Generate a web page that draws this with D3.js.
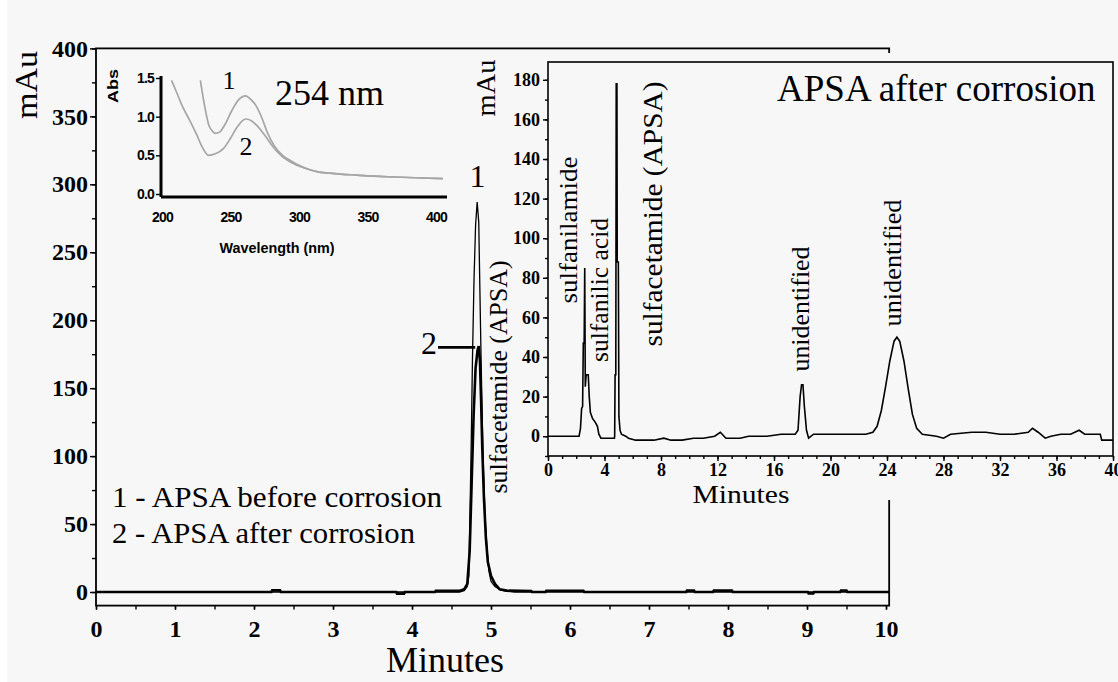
<!DOCTYPE html>
<html>
<head>
<meta charset="utf-8">
<script src="https://cdn.jsdelivr.net/npm/d3@7"></script>
<style>
  body { margin: 0; background: #fff; }
  svg { display: block; }
  text { fill: #000; }
</style>
</head>
<body>
<div id="chart"></div>
<script>
// main chromatogram, 254 nm (minutes / mAu)
const mainTime1 = [0, 4.6, 4.66, 4.7, 4.72, 4.735, 4.75, 4.765, 4.785, 4.805, 4.825, 4.845, 4.86, 4.875, 4.89, 4.905, 4.925, 4.95, 4.975, 5.0, 5.05, 5.12, 5.2, 5.3, 10.04];
const mainAbs1  = [0, 0, 1, 4, 12, 60, 110, 170, 230, 270, 287, 272, 220, 170, 125, 90, 55, 31, 15, 8, 4, 1.5, 0.5, 0, 0];
const mainTime2 = [0, 2.22, 2.23, 2.33, 2.34, 3.8, 3.81, 3.9, 3.91, 4.29, 4.3, 4.6, 4.66, 4.7, 4.73, 4.755, 4.78, 4.805, 4.83, 4.845, 4.86, 4.875, 4.89, 4.91, 4.935, 4.96, 5.0, 5.05, 5.11, 5.2, 5.51, 5.52, 5.69, 5.7, 6.17, 6.18, 7.47, 7.48, 7.57, 7.58, 7.81, 7.82, 8.05, 8.06, 9.01, 9.02, 9.08, 9.09, 9.42, 9.43, 9.5, 9.51, 10.04];
const mainAbs2  = [0, 0, 1.2, 1.2, 0, 0, -1.2, -1.2, 0, 0, 0.8, 0.8, 2, 6, 30, 80, 130, 165, 178, 181, 170, 140, 105, 70, 40, 22, 12, 6, 2, 1, 0.8, 0, 0, 0.9, 0.9, 0, 0, 1, 1, 0, 0, 1, 1, 0, 0, -1, -1, 0, 0, 1, 1, 0, 0];
const mainXTicks = [0, 1, 2, 3, 4, 5, 6, 7, 8, 9, 10];
const mainYTicks = [0, 50, 100, 150, 200, 250, 300, 350, 400];

// UV spectra inset (nm / Abs)
const specWl1  = [228, 231, 234, 237, 239, 242, 246, 251, 256, 261, 265, 269, 273, 277, 282, 288, 294, 300, 307, 313, 322, 332, 342, 355, 370, 385, 405];
const specAbs1 = [1.47, 1.15, 0.9, 0.81, 0.785, 0.8, 0.9, 1.08, 1.22, 1.27, 1.22, 1.13, 0.98, 0.79, 0.62, 0.5, 0.43, 0.37, 0.32, 0.29, 0.27, 0.255, 0.245, 0.23, 0.22, 0.21, 0.2];
const specWl2  = [207, 211, 215, 220, 225, 229, 234, 239, 245, 250, 255, 261, 265, 269, 275, 281, 288, 294, 298, 305, 313, 322, 332, 342, 355, 370, 385, 405];
const specAbs2 = [1.47, 1.3, 1.13, 0.96, 0.78, 0.62, 0.5, 0.52, 0.59, 0.72, 0.87, 0.97, 0.95, 0.89, 0.76, 0.61, 0.48, 0.41, 0.375, 0.33, 0.29, 0.27, 0.255, 0.245, 0.23, 0.22, 0.21, 0.2];
const specXTicks = [200, 250, 300, 350, 400];
const specYTicks = [0, 0.5, 1.0, 1.5];

// "APSA after corrosion" inset chromatogram (minutes / mAu)
const insetTime = [0, 2.2, 2.3, 2.38, 2.45, 2.5, 2.56, 2.6, 2.64, 2.7, 2.85, 2.92, 3.0, 3.15, 3.35, 3.5, 3.6, 3.75, 4.7, 4.72, 4.75, 4.8, 4.83, 4.88, 4.9, 4.98, 5.02, 5.1, 5.2, 5.5, 5.7, 6.2, 7.5, 8.2, 8.7, 9.5, 10.3, 11.0, 11.8, 12.2, 12.6, 13.6, 14.2, 15.5, 16.5, 17.5, 17.7, 17.85, 17.95, 18.05, 18.15, 18.3, 18.45, 18.8, 19.5, 20.5, 21.5, 22.5, 23.0, 23.3, 23.6, 23.9, 24.2, 24.5, 24.7, 24.9, 25.2, 25.5, 25.8, 26.1, 26.5, 27.5, 28.0, 28.5, 30, 31, 32, 33, 34.0, 34.3, 34.7, 35.2, 35.6, 36.3, 37.0, 37.6, 38.0, 38.5, 39.1, 39.2, 40];
const insetAbs  = [0, 0, 4, 14, 15, 47, 47, 85, 25, 31, 31, 20, 12, 9, 7, 5, 1, -1, -1, 0, 31, 31, 178, 178, 88, 88, 10, 3, 1, 0, -1, -2, -2, -1, -2, -2, -1, -1, 0, 2, -1, -1, 0, 0, 1, 1, 3, 20, 26, 26, 15, 3, -1, 1, 1, 1, 1, 1, 2, 5, 13, 25, 38, 48, 50, 48, 38, 24, 11, 4, 1, 0, -1, 1, 2, 2, 1, 1, 2, 4, 2, -1, 0, 1, 1, 3, 1, 1, 1, -2, -2];
const insetXTicks = [0, 4, 8, 12, 16, 20, 24, 28, 32, 36, 40];
const insetYTicks = [0, 20, 40, 60, 80, 100, 120, 140, 160, 180];

const serif = "'Liberation Serif', 'Times New Roman', serif";
const sans = "'Liberation Sans', Arial, sans-serif";

const W = 1118, H = 682;
const svg = d3.select("#chart").append("svg").attr("width", W).attr("height", H);
svg.append("rect").attr("x", 7).attr("y", 0).attr("width", W - 7).attr("height", H).attr("fill", "#f7f7f7");

function vtext(g, x, y, str, size, len) {
    const t = g.append("text")
        .attr("transform", `translate(${x},${y}) rotate(-90)`)
        .attr("text-anchor", "middle")
        .style("font-family", serif).style("font-size", size + "px")
        .text(str);
    if (len) t.attr("textLength", len).attr("lengthAdjust", "spacingAndGlyphs");
    return t;
}

function styleAxis(g, size, weight, family) {
    g.select(".domain").remove();
    g.selectAll(".tick line").attr("stroke", "#000").attr("stroke-width", 1.4);
    g.selectAll(".tick text").style("font-family", family).style("font-size", size + "px").style("font-weight", weight).attr("fill", "#000");
}

// ---------- main chromatogram ----------
const mx = d3.scaleLinear().domain([0, 10]).range([96, 886]);
const my = d3.scaleLinear().domain([-10, 400]).range([605.6, 48.4]);
const main = svg.append("g");

main.append("rect")
    .attr("x", mx(0)).attr("y", my(400))
    .attr("width", mx(10.04) - mx(0)).attr("height", my(-10) - my(400))
    .attr("fill", "none").attr("stroke", "#000").attr("stroke-width", 1.8);

main.append("g").attr("transform", `translate(${mx(0)},0)`)
    .call(d3.axisLeft(my).tickValues(d3.range(0, 401, 25)).tickSize(4).tickFormat(""))
    .call(g => styleAxis(g, 10, "normal", serif));
main.append("g").attr("transform", `translate(${mx(0)},0)`)
    .call(d3.axisLeft(my).tickValues(mainYTicks).tickSize(6).tickPadding(2).tickFormat(d3.format("d")))
    .call(g => styleAxis(g, 24, "bold", serif));

main.append("g").attr("transform", `translate(0,${my(-10)})`)
    .call(d3.axisBottom(mx).tickValues(d3.range(0, 10.01, 0.5)).tickSize(4).tickFormat(""))
    .call(g => styleAxis(g, 10, "normal", serif));
main.append("g").attr("transform", `translate(0,${my(-10)})`)
    .call(d3.axisBottom(mx).tickValues(mainXTicks).tickSize(4).tickPadding(10).tickFormat(d3.format("d")))
    .call(g => styleAxis(g, 24, "bold", serif));

const mainLine = d3.line().x(d => mx(d[0])).y(d => my(d[1]));
main.append("path").datum(mainTime2.map((t, i) => [t, mainAbs2[i]]))
    .attr("d", mainLine).attr("fill", "none").attr("stroke", "#000").attr("stroke-width", 2.6);
main.append("path").datum(mainTime1.map((t, i) => [t, mainAbs1[i]]))
    .attr("d", mainLine).attr("fill", "none").attr("stroke", "#000").attr("stroke-width", 1.3);

main.append("text").attr("x", 445).attr("y", 672).attr("text-anchor", "middle")
    .style("font-family", serif).style("font-size", "36px").text("Minutes");
vtext(main, 37, 85, "mAu", 32, 68);

main.append("text").attr("x", 112).attr("y", 507)
    .attr("textLength", 330).attr("lengthAdjust", "spacingAndGlyphs")
    .style("font-family", serif).style("font-size", "30px").text("1 - APSA before corrosion");
main.append("text").attr("x", 112).attr("y", 543)
    .attr("textLength", 303).attr("lengthAdjust", "spacingAndGlyphs")
    .style("font-family", serif).style("font-size", "30px").text("2 - APSA after corrosion");

main.append("text").attr("x", mx(4.83)).attr("y", 187).attr("text-anchor", "middle")
    .style("font-family", serif).style("font-size", "32px").text("1");
main.append("text").attr("x", 429).attr("y", 354).attr("text-anchor", "middle")
    .style("font-family", serif).style("font-size", "32px").text("2");
main.append("line").attr("x1", 438).attr("x2", mx(4.8)).attr("y1", my(180)).attr("y2", my(180))
    .attr("stroke", "#000").attr("stroke-width", 2.6);

// ---------- UV spectrum inset ----------
const sx = d3.scaleLinear().domain([200, 400]).range([162, 436]);
const sy = d3.scaleLinear().domain([0, 1.5]).range([194, 78]);
const spec = svg.append("g");

spec.append("line").attr("x1", 161).attr("x2", 447).attr("y1", 197).attr("y2", 197)
    .attr("stroke", "#000").attr("stroke-width", 3.2);
spec.append("line").attr("x1", 161).attr("x2", 161).attr("y1", 76).attr("y2", 197)
    .attr("stroke", "#000").attr("stroke-width", 3);

spec.append("g").attr("transform", "translate(160,0)")
    .call(d3.axisLeft(sy).tickValues(specYTicks).tickSize(4).tickPadding(2).tickFormat(d3.format(".1f")))
    .call(g => styleAxis(g, 14, "bold", sans))
    .call(g => g.selectAll(".tick text").attr("letter-spacing", "-0.8"));
spec.append("g").attr("transform", "translate(0,210)")
    .call(d3.axisBottom(sx).tickValues(specXTicks).tickSize(0).tickPadding(2).tickFormat(d3.format("d")))
    .call(g => styleAxis(g, 14, "bold", sans))
    .call(g => g.selectAll(".tick text").attr("letter-spacing", "-0.8"));

spec.append("text").attr("x", 277).attr("y", 253).attr("text-anchor", "middle")
    .attr("textLength", 115).attr("lengthAdjust", "spacingAndGlyphs")
    .style("font-family", sans).style("font-size", "15px").style("font-weight", "bold")
    .text("Wavelength (nm)");
spec.append("text").attr("transform", "translate(118,86) rotate(-90)").attr("text-anchor", "middle")
    .attr("textLength", 34).attr("lengthAdjust", "spacingAndGlyphs")
    .style("font-family", sans).style("font-size", "14px").style("font-weight", "bold").text("Abs");

const specLine = d3.line().curve(d3.curveMonotoneX).x(d => sx(d[0])).y(d => sy(d[1]));
spec.append("path").datum(specWl2.map((w, i) => [w, specAbs2[i]]))
    .attr("d", specLine).attr("fill", "none").attr("stroke", "#a6a6a6").attr("stroke-width", 1.7);
spec.append("path").datum(specWl1.map((w, i) => [w, specAbs1[i]]))
    .attr("d", specLine).attr("fill", "none").attr("stroke", "#a6a6a6").attr("stroke-width", 1.7);

spec.append("text").attr("x", 229).attr("y", 89).attr("text-anchor", "middle")
    .style("font-family", serif).style("font-size", "26px").text("1");
spec.append("text").attr("x", 246).attr("y", 155).attr("text-anchor", "middle")
    .style("font-family", serif).style("font-size", "26px").text("2");
spec.append("text").attr("x", 275).attr("y", 105)
    .style("font-family", serif).style("font-size", "36px").text("254 nm");

// ---------- after-corrosion inset chromatogram ----------
svg.append("rect").attr("x", 515).attr("y", 53).attr("width", W - 515).attr("height", 447).attr("fill", "#f7f7f7");

const ix = d3.scaleLinear().domain([0, 40]).range([548, 1113]);
const iy = d3.scaleLinear().domain([-10, 189]).range([456, 62]);
const inset = svg.append("g");

inset.append("rect")
    .attr("x", ix(0)).attr("y", iy(189))
    .attr("width", ix(40) - ix(0)).attr("height", iy(-10) - iy(189))
    .attr("fill", "none").attr("stroke", "#000").attr("stroke-width", 1.6);

inset.append("g").attr("transform", `translate(${ix(0)},0)`)
    .call(d3.axisLeft(iy).tickValues(d3.range(-10, 181, 10)).tickSize(3).tickFormat(""))
    .call(g => styleAxis(g, 10, "normal", serif));
inset.append("g").attr("transform", `translate(${ix(0)},0)`)
    .call(d3.axisLeft(iy).tickValues(insetYTicks).tickSize(5).tickPadding(3).tickFormat(d3.format("d")))
    .call(g => styleAxis(g, 18, "bold", serif));

inset.append("g").attr("transform", `translate(0,${iy(-10)})`)
    .call(d3.axisBottom(ix).tickValues(d3.range(0, 40.1, 1)).tickSize(3).tickFormat(""))
    .call(g => styleAxis(g, 10, "normal", serif));
inset.append("g").attr("transform", `translate(0,${iy(-10)})`)
    .call(d3.axisBottom(ix).tickValues(insetXTicks).tickSize(5).tickPadding(2).tickFormat(d3.format("d")))
    .call(g => styleAxis(g, 18, "bold", serif));

const insetLine = d3.line().x(d => ix(d[0])).y(d => iy(d[1]));
inset.append("path").datum(insetTime.map((t, i) => [t, insetAbs[i]]))
    .attr("d", insetLine).attr("fill", "none").attr("stroke", "#000").attr("stroke-width", 1.6);

inset.append("text").attr("x", 741).attr("y", 503).attr("text-anchor", "middle")
    .attr("textLength", 97).attr("lengthAdjust", "spacingAndGlyphs")
    .style("font-family", serif).style("font-size", "26px").text("Minutes");
vtext(inset, 495, 88, "mAu", 28, 57);
inset.append("text").attr("x", 777).attr("y", 101)
    .style("font-family", serif).style("font-size", "37px").text("APSA after corrosion");

vtext(inset, 577, 230, "sulfanilamide", 26, 147);
vtext(inset, 608, 290, "sulfanilic acid", 25, 144);
vtext(inset, 662, 214, "sulfacetamide (APSA)", 28, 265);
vtext(inset, 809, 309, "unidentified", 25, 125);
vtext(inset, 901, 263, "unidentified", 25, 127);

// label of the main peak sits on top of the inset panel edge
vtext(svg, 507, 377, "sulfacetamide (APSA)", 25, 233);
</script>
</body>
</html>
